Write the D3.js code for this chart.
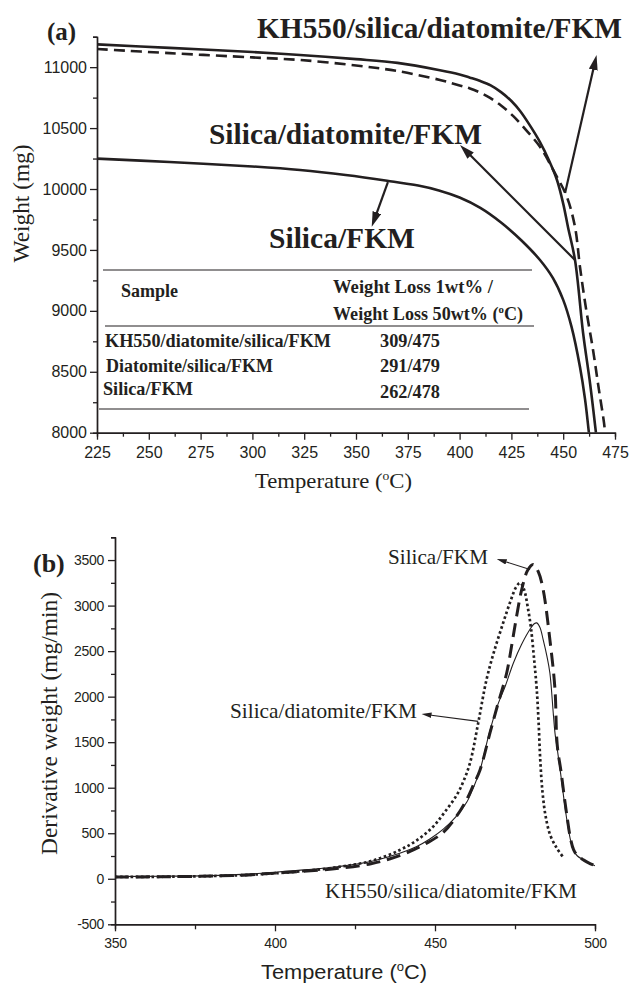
<!DOCTYPE html>
<html>
<head>
<meta charset="utf-8">
<script src="https://cdn.jsdelivr.net/npm/d3@7"></script>
<style>
  html, body { margin: 0; padding: 0; background: #fff; }
  svg { display: block; }
</style>
</head>
<body>
<div id="chart"></div>
<script>
/* Two stacked panels: (a) TGA weight curves, (b) DTG derivative curves. */

// ---- data: panel (a), [temperature °C, weight mg] ----
const tgaKH550 = [[225, 11149], [260, 11115], [300, 11080], [323, 11059], [350, 11014], [370, 10968],
  [390.5, 10895], [400, 10850], [405, 10825], [409.8, 10792], [414.7, 10748], [420, 10685],
  [425.8, 10600], [432, 10485], [438.8, 10346], [446, 10131], [451.8, 9934], [455.7, 9688],
  [458.1, 9360], [461, 9020], [464.4, 8679], [467, 8380], [469.7, 8080], [470.2, 8000]];
const tgaSilicaDiatomite = [[225, 11187], [260, 11158], [300, 11124], [323, 11100], [350, 11066],
  [370, 11035], [390.5, 10975], [400, 10940], [405, 10914], [410, 10886], [415, 10850],
  [420, 10795], [425, 10722], [429.2, 10640], [434, 10520], [438.8, 10385], [443, 10240],
  [447, 10074], [450, 9880], [452.3, 9688], [455.7, 9417], [459.6, 8818], [463, 8400], [465.8, 8000]];
const tgaSilica = [[225, 10249], [260, 10222], [300, 10185], [323, 10156], [345, 10115], [365, 10068],
  [380, 10028], [390, 9988], [400, 9930], [410, 9845], [420, 9725], [430, 9575], [438.8, 9417],
  [445, 9270], [450, 9090], [454, 8870], [458.1, 8539], [460.5, 8280], [462.4, 8000]];

const tgaLabels = ['KH550/silica/diatomite/FKM', 'Silica/diatomite/FKM', 'Silica/FKM'];
const xTicksA = d3.range(225, 476, 25);
const yTicksA = d3.range(8000, 11001, 500);

// table inside panel (a)
const tableHead = ['Sample', 'Weight Loss 1wt% /', 'Weight Loss 50wt% ('];
const tableSamples = ['KH550/diatomite/silica/FKM', 'Diatomite/silica/FKM', 'Silica/FKM'];
const tableValues = ['309/475', '291/479', '262/478'];

// ---- data: panel (b), [temperature °C, derivative weight mg/min] ----
const dtgSilicaDiatomite = [[350, 20], [365, 22], [380, 30], [390, 40], [400, 60], [410, 88], [420, 130],
  [430, 195], [439, 315], [445, 440], [449.5, 575], [453, 730], [456.8, 920], [459, 1080],
  [461, 1280], [463.5, 1711], [466.1, 2187], [468.5, 2500], [471.3, 2810], [473.5, 3040],
  [475.3, 3200], [476.6, 3250], [477.8, 3180], [479, 2980], [480, 2750], [481, 2400],
  [481.8, 2077], [482.4, 1700], [482.9, 1300], [483.6, 950], [484.6, 680], [486, 480],
  [488, 340], [489.9, 245]];
const dtgKH550 = [[350, 25], [365, 28], [380, 35], [390, 48], [400, 72], [410, 100], [420, 135],
  [430, 190], [439, 280], [444.3, 355], [448.5, 440], [452.6, 545], [456.5, 680], [459.9, 840],
  [462, 1000], [464.1, 1198], [466.7, 1564], [469.3, 1880], [472, 2120], [474.5, 2370],
  [477, 2570], [479.7, 2740], [481, 2800], [481.8, 2810], [482.8, 2760], [483.8, 2626],
  [485, 2440], [485.9, 2260], [487, 1800], [487.5, 1600], [488.3, 1400], [489.1, 1198],
  [490.2, 900], [491.2, 648], [492.2, 450], [493.2, 319], [494.5, 250], [496.5, 205],
  [498, 175], [500, 143]];
const dtgSilica = [[350, 20], [365, 22], [380, 30], [390, 40], [400, 62], [410, 85], [420, 115],
  [430, 165], [436, 220], [442.2, 300], [447.4, 391], [452.6, 510], [456.8, 690], [459.9, 870],
  [462, 1030], [464.1, 1198], [467.2, 1604], [469.5, 1900], [472.4, 2260], [474, 2570],
  [475.5, 2882], [477.1, 3176], [479, 3390], [480.7, 3451], [482.3, 3370], [483.8, 3176],
  [485.9, 2626], [487.5, 2077], [488, 1564], [488.4, 1400], [489.3, 1198], [490.4, 900],
  [491.4, 648], [492.3, 450], [493.3, 320], [494.6, 250], [496.5, 205], [498, 175], [500, 143]];

const dtgLabels = ['Silica/FKM', 'Silica/diatomite/FKM', 'KH550/silica/diatomite/FKM'];
const xTicksB = [350, 400, 450, 500];
const yTicksB = d3.range(-500, 3501, 500);

// annotation arrows (data units): from curve -> to label
const arrowsA = [
  { from: [450.9, 9967], to: [466.1, 11099] },
  { from: [455.7, 9417], to: [400.2, 10361] },
  { from: [365.4, 10056], to: [357.6, 9691] }
];
const arrowsB = [
  { from: [479.7, 3396], to: [469.3, 3513] },
  { from: [463.5, 1729], to: [445.8, 1810] }
];

const W = 629, H = 984;
const ink = '#231f20';
const serif = "'Liberation Serif', 'Times New Roman', serif";
const sans = "'Liberation Sans', Arial, sans-serif";

const svg = d3.select('#chart').append('svg').attr('width', W).attr('height', H);
const defs = svg.append('defs');

function marker(id, len, wid) {
  defs.append('marker').attr('id', id)
    .attr('markerUnits', 'userSpaceOnUse')
    .attr('viewBox', `0 0 ${len} ${wid}`)
    .attr('refX', len).attr('refY', wid / 2)
    .attr('markerWidth', len).attr('markerHeight', wid)
    .attr('orient', 'auto')
    .append('path').attr('d', `M0,0L${len},${wid / 2}L0,${wid}Z`).attr('fill', ink);
}
marker('headA', 15, 9);
marker('headB', 10, 5.5);

// text helper with optional superscript "o" and fitted width
function label(g, str, x, y, o) {
  const t = g.append('text')
    .attr('x', x).attr('y', y)
    .attr('font-family', o.family || serif)
    .attr('font-size', o.size)
    .attr('font-weight', o.bold ? 'bold' : 'normal')
    .attr('fill', ink);
  if (o.rotate) t.attr('transform', `rotate(-90,${x},${y})`).attr('text-anchor', 'middle');
  if (o.sup) {
    t.append('tspan').text(str);
    t.append('tspan').attr('font-size', o.size * 0.6).attr('dy', -o.size * 0.38).text('o');
    t.append('tspan').attr('dy', o.size * 0.38).text('C)');
  } else t.text(str);
  if (o.len) t.attr('textLength', o.len).attr('lengthAdjust', 'spacingAndGlyphs');
  return t;
}

function arrow(g, a, xs, ys, head, sw, back) {
  const x1 = xs(a.from[0]), y1 = ys(a.from[1]);
  const x2 = xs(a.to[0]), y2 = ys(a.to[1]);
  const L = Math.hypot(x2 - x1, y2 - y1);
  const k = (L - back) / L; // stop the shaft inside the head
  g.append('line')
    .attr('x1', x1).attr('y1', y1)
    .attr('x2', x1 + (x2 - x1) * k).attr('y2', y1 + (y2 - y1) * k)
    .attr('stroke', ink).attr('stroke-width', sw);
  g.append('path').attr('d', `M${x1},${y1}L${x2},${y2}`)
    .attr('stroke', 'none').attr('fill', 'none').attr('marker-end', `url(#${head})`);
}

function styleAxis(g, size) {
  g.selectAll('path.domain').attr('stroke', ink).attr('stroke-width', 1.4);
  g.selectAll('.tick line').attr('stroke', ink).attr('stroke-width', 1.3);
  g.selectAll('.tick text').attr('fill', ink).attr('font-family', sans).attr('font-size', size);
}

const plain = d => String(d); // hyphen minus, no thousands separator

/* ================= panel (a) ================= */
const xA = d3.scaleLinear().domain([225, 475]).range([97, 615]);
const yA = d3.scaleLinear().domain([8000, 11250]).range([432.7, 36.7]);
const gA = svg.append('g');

defs.append('clipPath').attr('id', 'clipA').append('rect')
  .attr('x', xA(225)).attr('y', yA(11250))
  .attr('width', xA(475) - xA(225)).attr('height', yA(8000) - yA(11250));

gA.append('g').attr('transform', `translate(0,${yA(8000)})`)
  .call(d3.axisBottom(xA).tickValues(d3.range(237.5, 475, 25)).tickSize(4).tickFormat(''))
  .call(g => styleAxis(g, 16));
gA.append('g').attr('transform', `translate(0,${yA(8000)})`)
  .call(d3.axisBottom(xA).tickValues(xTicksA).tickSize(7).tickPadding(7).tickSizeOuter(0).tickFormat(plain))
  .call(g => styleAxis(g, 16));
gA.append('g').attr('transform', `translate(${xA(225)},0)`)
  .call(d3.axisLeft(yA).tickValues(d3.range(8250, 11251, 500)).tickSize(4).tickFormat(''))
  .call(g => styleAxis(g, 16));
gA.append('g').attr('transform', `translate(${xA(225)},0)`)
  .call(d3.axisLeft(yA).tickValues(yTicksA).tickSize(7).tickPadding(3).tickSizeOuter(0).tickFormat(plain))
  .call(g => styleAxis(g, 16));

const lineA = d3.line().x(d => xA(d[0])).y(d => yA(d[1])).curve(d3.curveCatmullRom.alpha(0.5));
const curvesA = gA.append('g').attr('clip-path', 'url(#clipA)').attr('fill', 'none').attr('stroke', ink);
curvesA.append('path').datum(tgaSilica).attr('d', lineA).attr('stroke-width', 2.6);
curvesA.append('path').datum(tgaSilicaDiatomite).attr('d', lineA).attr('stroke-width', 2.6);
curvesA.append('path').datum(tgaKH550).attr('d', lineA).attr('stroke-width', 2.6).attr('stroke-dasharray', '11,6');

arrowsA.forEach(a => arrow(gA, a, xA, yA, 'headA', 2.2, 10));

label(gA, '(a)', 47, 40, { size: 25, bold: true });
label(gA, tgaLabels[0], 257, 38, { size: 29.4, bold: true, len: 365 });
label(gA, tgaLabels[1], 209, 143.5, { size: 29.4, bold: true, len: 273 });
label(gA, tgaLabels[2], 269, 248, { size: 29.4, bold: true, len: 146 });

label(gA, 'Temperature (', 255, 488, { size: 22, sup: true, len: 157 });
label(gA, 'Weight (mg)', 29, 203.5, { size: 22.5, rotate: true, len: 118 });

// table
const tbl = gA.append('g');
[[103, 532, 270], [105, 534, 326], [99, 529, 409]].forEach(r => {
  tbl.append('line').attr('x1', r[0]).attr('x2', r[1]).attr('y1', r[2]).attr('y2', r[2])
    .attr('stroke', ink).attr('stroke-width', 1.2);
});
label(tbl, tableHead[0], 121, 297, { size: 18, bold: true, len: 57 });
label(tbl, tableHead[1], 333, 293, { size: 18, bold: true, len: 160 });
label(tbl, tableHead[2], 333, 320, { size: 18, bold: true, sup: true, len: 190 });
const rowY = [346.5, 371.5, 394.5];
const valY = [346.5, 371.5, 398];
const rowX = [105, 106, 103];
const rowLen = [226, 167, 90];
tableSamples.forEach((s, i) => label(tbl, s, rowX[i], rowY[i], { size: 18, bold: true, len: rowLen[i] }));
tableValues.forEach((v, i) => label(tbl, v, 380, valY[i], { size: 18, bold: true, len: 60 }));

/* ================= panel (b) ================= */
const xB = d3.scaleLinear().domain([350, 500]).range([115, 595]);
const yB = d3.scaleLinear().domain([-500, 3750]).range([924.3, 537.3]);
const gB = svg.append('g');

defs.append('clipPath').attr('id', 'clipB').append('rect')
  .attr('x', xB(350)).attr('y', yB(3750))
  .attr('width', xB(500) - xB(350)).attr('height', yB(-500) - yB(3750));

gB.append('g').attr('transform', `translate(0,${yB(-500)})`)
  .call(d3.axisBottom(xB).tickValues([375, 425, 475]).tickSize(5).tickFormat(''))
  .call(g => styleAxis(g, 14));
gB.append('g').attr('transform', `translate(0,${yB(-500)})`)
  .call(d3.axisBottom(xB).tickValues(xTicksB).tickSize(7).tickPadding(7).tickSizeOuter(0).tickFormat(plain))
  .call(g => styleAxis(g, 14));
gB.append('g').attr('transform', `translate(${xB(350)},0)`)
  .call(d3.axisLeft(yB).tickValues(d3.range(-250, 3751, 500)).tickSize(4).tickFormat(''))
  .call(g => styleAxis(g, 14));
gB.append('g').attr('transform', `translate(${xB(350)},0)`)
  .call(d3.axisLeft(yB).tickValues(yTicksB).tickSize(7).tickPadding(4).tickSizeOuter(0).tickFormat(plain))
  .call(g => styleAxis(g, 14));
gB.selectAll('.tick text').attr('letter-spacing', -0.3);

const lineB = d3.line().x(d => xB(d[0])).y(d => yB(d[1])).curve(d3.curveCatmullRom.alpha(0.5));
const curvesB = gB.append('g').attr('clip-path', 'url(#clipB)').attr('fill', 'none').attr('stroke', ink);
curvesB.append('path').datum(dtgKH550).attr('d', lineB).attr('stroke-width', 1.1);
curvesB.append('path').datum(dtgSilica).attr('d', lineB).attr('stroke-width', 3).attr('stroke-dasharray', '14,7');
curvesB.append('path').datum(dtgSilicaDiatomite).attr('d', lineB).attr('stroke-width', 2.7).attr('stroke-dasharray', '2.6,2.6');

arrowsB.forEach(a => arrow(gB, a, xB, yB, 'headB', 1.1, 6));

label(gB, '(b)', 33, 571.5, { size: 26, bold: true });
label(gB, dtgLabels[0], 388, 563.5, { size: 21, len: 100 });
label(gB, dtgLabels[1], 230, 718, { size: 21, len: 187 });
label(gB, dtgLabels[2], 325, 898, { size: 21, len: 252 });

label(gB, 'Temperature (', 261, 979, { size: 20.5, family: sans, sup: true, len: 166 });
label(gB, 'Derivative weight (mg/min)', 57, 723.5, { size: 23.5, rotate: true, len: 263 });
</script>
</body>
</html>
